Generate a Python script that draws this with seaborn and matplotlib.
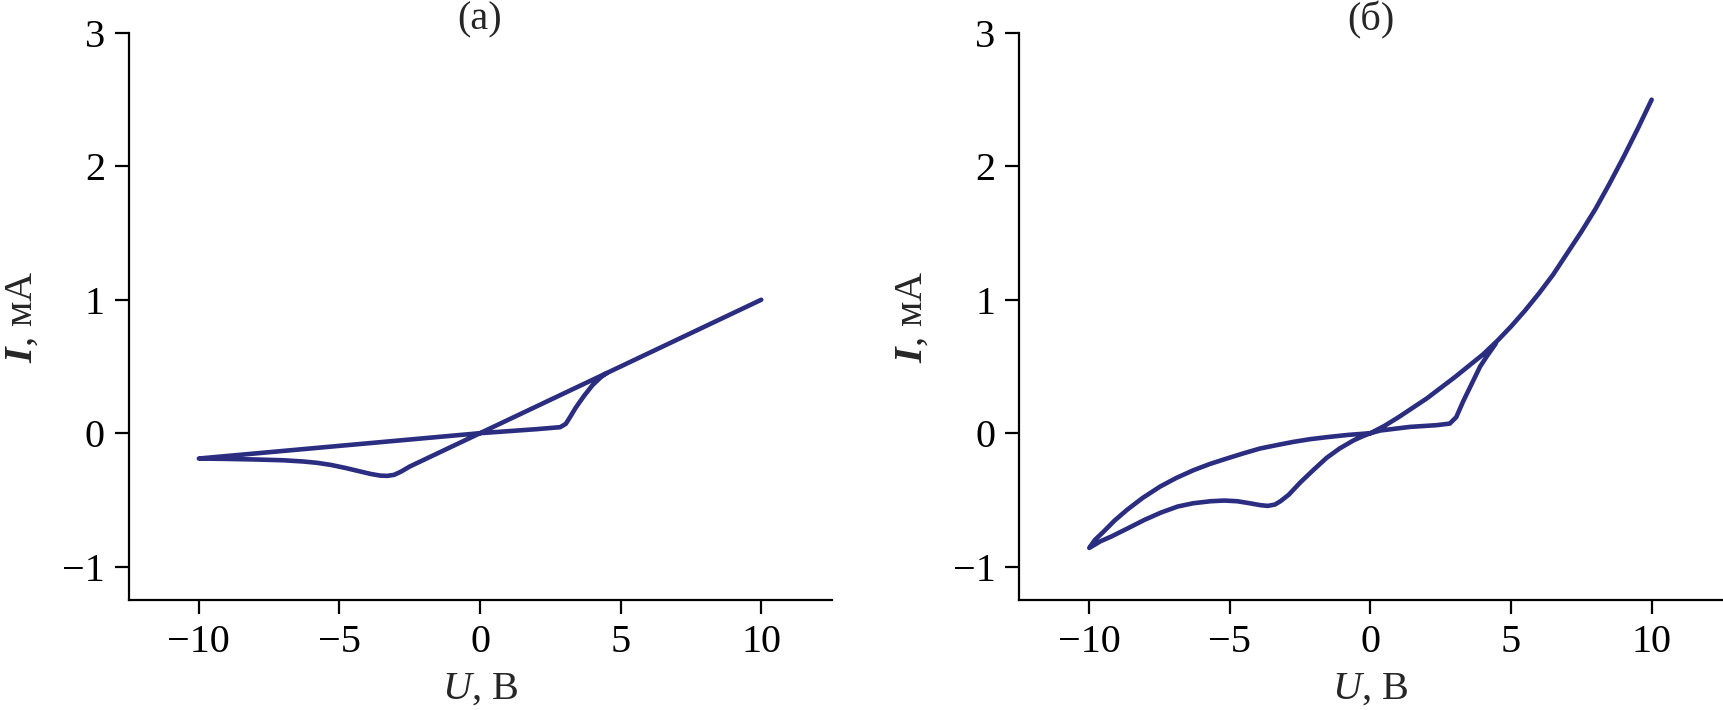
import matplotlib
matplotlib.use("Agg")
import matplotlib.pyplot as plt
import seaborn as sns
import pandas as pd

# ---- data ----
# panel (а): path of the I-V loop, U in V, I in mA
u_a = [4.5, 4.3, 4.0, 3.7, 3.4, 3.2, 3.05, 2.85,
       2.0, 1.0, 0, -2, -4, -6, -8, -10,
       -9, -8, -7, -6.3, -5.8, -5.3, -4.8, -4.3, -3.9, -3.55, -3.3, -3.05, -2.8, -2.5, -2, -1,
       0, 2, 4, 6, 8, 10]
i_a = [0.45, 0.42, 0.36, 0.28, 0.19, 0.12, 0.07, 0.045,
       0.03, 0.015, 0, -0.038, -0.076, -0.114, -0.152, -0.19,
       -0.193, -0.197, -0.203, -0.212, -0.222, -0.238, -0.26, -0.285, -0.305, -0.318, -0.32, -0.312, -0.287, -0.25, -0.2, -0.1,
       0, 0.2, 0.4, 0.6, 0.8, 1.0]

# panel (б)
u_b = [4.45, 4.15, 3.9, 3.6, 3.3, 3.05, 2.82, 2.35, 1.4, 0.35, 0,
       -0.8, -1.56, -2.15, -2.74, -3.3, -3.93, -4.5, -5.11, -5.7, -6.29, -6.9, -7.48, -8.1, -8.66, -9.1, -9.5, -9.8, -10,
       -9.6, -9.22, -8.6, -8.04, -7.45, -6.86, -6.3, -5.68, -5.2, -4.74, -4.3, -3.9, -3.65, -3.4, -3.2, -2.9, -2.5,
       -2.0, -1.56, -1.1, -0.61, -0.3,
       0, 0.5, 1, 1.5, 2, 2.5, 3, 3.5, 4, 4.5, 5, 5.5, 6, 6.5, 7, 7.5, 8, 8.5, 9, 9.5, 10]
i_b = [0.67, 0.58, 0.50, 0.37, 0.24, 0.12, 0.072, 0.06, 0.047, 0.02, 0,
       -0.013, -0.03, -0.045, -0.065, -0.088, -0.115, -0.15, -0.19, -0.23, -0.277, -0.335, -0.40, -0.485, -0.575, -0.655, -0.74, -0.80, -0.86,
       -0.81, -0.775, -0.71, -0.65, -0.595, -0.55, -0.525, -0.51, -0.505, -0.51, -0.525, -0.54, -0.545, -0.535, -0.51, -0.46, -0.37,
       -0.27, -0.185, -0.115, -0.055, -0.025,
       0, 0.055, 0.12, 0.19, 0.26, 0.34, 0.42, 0.505, 0.59, 0.69, 0.80, 0.92, 1.05, 1.19, 1.35, 1.51, 1.68, 1.87, 2.07, 2.28, 2.5]

x_ticks = [-10, -5, 0, 5, 10]
y_ticks = [-1, 0, 1, 2, 3]
panel_titles = ["(а)", "(б)"]

# ---- style ----
sns.set_style("ticks")
plt.rcParams["font.family"] = ["Liberation Serif", "DejaVu Serif"]
plt.rcParams["mathtext.fontset"] = "custom"
plt.rcParams["mathtext.rm"] = "Liberation Serif"
plt.rcParams["mathtext.it"] = "Liberation Serif:italic"
plt.rcParams["mathtext.bf"] = "Liberation Serif:bold:italic"

FS = 29
LINE_C = "#2b2d80"

fig = plt.figure(figsize=(17.23, 7.10), dpi=100)
ax_a = fig.add_axes([0.0746, 0.155, 0.408, 0.7986])
ax_b = fig.add_axes([0.5914, 0.155, 0.408, 0.7986])

for ax, u, i, title in [(ax_a, u_a, i_a, panel_titles[0]), (ax_b, u_b, i_b, panel_titles[1])]:
    df = pd.DataFrame({"U": u, "I": i})
    sns.lineplot(data=df, x="U", y="I", sort=False, estimator=None, ax=ax,
                 color=LINE_C, linewidth=3.3, solid_joinstyle="round", solid_capstyle="round")
    ax.set_xlim(-12.5, 12.5)
    ax.set_ylim(-1.25, 3)
    ax.set_xticks(x_ticks)
    ax.set_yticks(y_ticks)
    sns.despine(ax=ax)
    for s in ["left", "bottom"]:
        ax.spines[s].set_linewidth(1.6)
        ax.spines[s].set_color("black")
    ax.tick_params(axis="both", direction="out", length=10, width=1.6,
                   labelsize=FS, colors="black", pad=7)
    ax.set_xlabel(r"$\mathit{U}$, В", fontsize=FS)
    ax.set_ylabel(r"$\mathbf{I}$, мА", fontsize=FS)
    ax.xaxis.set_label_coords(0.5, -0.125)
    ax.yaxis.set_label_coords(-0.125, 0.5)
    ax.text(0.5, 1.023, title, transform=ax.transAxes, ha="center", va="center", fontsize=FS)

fig.savefig("out.png", dpi=100)
